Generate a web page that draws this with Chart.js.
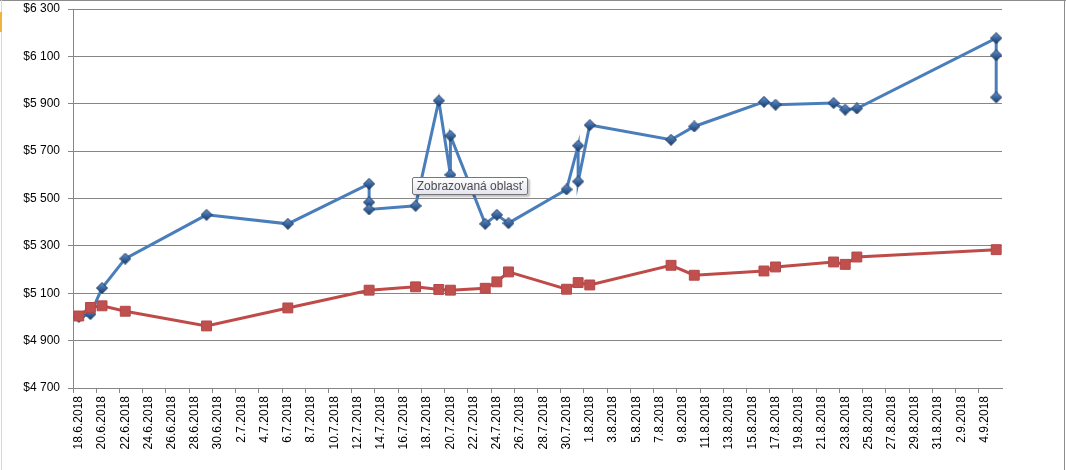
<!DOCTYPE html>
<html>
<head>
<meta charset="utf-8">
<script src="https://cdn.jsdelivr.net/npm/chart.js@4.4.1/dist/chart.umd.min.js"></script>
<style>
  body { margin: 0; background: #fff; }
  #wrap { position: relative; width: 1066px; height: 470px; overflow: hidden; }
  #edgeTop { position: absolute; left: 0; top: 0; width: 1066px; height: 1px; background: #8c8c8c; }
  #edgeRight { position: absolute; left: 1064px; top: 0; width: 1px; height: 470px; background: #8c8c8c; }
  #edgeLeft { position: absolute; left: 1px; top: 0; width: 1px; height: 470px; background: #d0d7e5; }
  #edgeMark { position: absolute; left: 0; top: 12px; width: 2px; height: 20px; background: #f2b33d; }
  #tip {
    position: absolute; left: 412px; top: 177px; width: 114px; height: 16px;
    border: 1px solid #767676; border-radius: 2px;
    background: linear-gradient(#ffffff, #e4e5f0);
    box-shadow: 2px 2px 2px rgba(0,0,0,0.25);
    font: 12px "Liberation Sans", Arial, sans-serif; color: #4c4c4c;
    line-height: 16px; text-align: center; white-space: nowrap;
  }
</style>
</head>
<body>
<div id="wrap">
  <canvas id="chart"></canvas>
  <div id="edgeTop"></div>
  <div id="edgeRight"></div>
  <div id="edgeLeft"></div>
  <div id="edgeMark"></div>
  <div id="tip">Zobrazovaná oblasť</div>
</div>
<script>
// axis: every calendar day from 18.6.2018, 80 days
var firstDay = [2018, 5, 18];
var dayCount = 80;

var blueDates = ["18.6.2018", "19.6.2018", "20.6.2018", "22.6.2018", "29.6.2018", "6.7.2018",
    "13.7.2018", "13.7.2018", "13.7.2018", "17.7.2018", "19.7.2018", "20.7.2018", "20.7.2018",
    "23.7.2018", "24.7.2018", "25.7.2018", "30.7.2018", "31.7.2018", "31.7.2018", "1.8.2018",
    "8.8.2018", "10.8.2018", "16.8.2018", "17.8.2018", "22.8.2018", "23.8.2018", "24.8.2018",
    "5.9.2018", "5.9.2018", "5.9.2018"];
var blueValues = [5000, 5012, 5122, 5246, 5431, 5393,
    5562, 5484, 5454, 5469, 5913, 5600, 5765,
    5393, 5431, 5396, 5538, 5723, 5572, 5810,
    5748, 5804, 5908, 5896, 5903, 5875, 5880,
    6177, 6105, 5927];

var redDates = ["18.6.2018", "19.6.2018", "20.6.2018", "22.6.2018", "29.6.2018", "6.7.2018",
    "13.7.2018", "17.7.2018", "19.7.2018", "20.7.2018", "23.7.2018", "24.7.2018", "25.7.2018",
    "30.7.2018", "31.7.2018", "1.8.2018", "8.8.2018", "10.8.2018", "16.8.2018", "17.8.2018",
    "22.8.2018", "23.8.2018", "24.8.2018", "5.9.2018"];
var redValues = [5004, 5040, 5047, 5024, 4962, 5038,
    5113, 5127, 5116, 5113, 5121, 5148, 5190,
    5117, 5145, 5135, 5218, 5176, 5194, 5211,
    5232, 5222, 5253, 5284];

var yMin = 4700, yMax = 6300, yStep = 200;

var dayLabels = [];
for (var i = 0; i < dayCount; i++) {
    var d = new Date(firstDay[0], firstDay[1], firstDay[2] + i);
    dayLabels.push(d.getDate() + "." + (d.getMonth() + 1) + "." + d.getFullYear());
}

function pairs(dates, values) {
    return dates.map(function (x, k) { return { x: x, y: values[k] }; });
}

// bevelled diamond marker like the Excel one
function diamond() {
    var c = document.createElement("canvas");
    c.width = 12; c.height = 12;
    var g = c.getContext("2d");
    var grad = g.createLinearGradient(0, 0, 0, 12);
    grad.addColorStop(0, "#6f98cf");
    grad.addColorStop(0.5, "#3a67a2");
    grad.addColorStop(1, "#1b3659");
    g.beginPath();
    g.moveTo(6, 0.5); g.lineTo(11.5, 6); g.lineTo(6, 11.5); g.lineTo(0.5, 6);
    g.closePath();
    g.fillStyle = grad;
    g.fill();
    g.strokeStyle = "#1d3a62";
    g.lineWidth = 1;
    g.stroke();
    return c;
}

var gridGray = "#868686";
var font = { family: "'Liberation Sans', Arial, sans-serif", size: 12 };

var ctx = document.getElementById("chart").getContext("2d");
var chart = new Chart(ctx, {
    type: 'line',
    data: {
        labels: dayLabels,
        datasets: [{
            label: 'red',
            data: pairs(redDates, redValues),
            borderColor: '#be4b48',
            borderWidth: 3,
            pointStyle: 'rect',
            pointRadius: 7,
            pointBackgroundColor: '#c0504d',
            pointBorderColor: '#b4474a',
            pointBorderWidth: 1,
            tension: 0
        }, {
            label: 'blue',
            data: pairs(blueDates, blueValues),
            borderColor: '#4a7ebb',
            borderWidth: 3,
            pointStyle: diamond(),
            pointRadius: 6,
            tension: 0
        }]
    },
    options: {
        responsive: true,
        maintainAspectRatio: false,
        animation: false,
        layout: { padding: { left: 0, right: 64, top: 8, bottom: 0 } },
        plugins: { legend: { display: false }, tooltip: { enabled: false } },
        scales: {
            x: {
                type: 'category',
                offset: true,
                grid: {
                    offset: true,
                    drawOnChartArea: false,
                    tickLength: 5,
                    color: function (c) { return c.index % 2 === 0 ? gridGray : 'rgba(0,0,0,0)'; }
                },
                border: { color: gridGray },
                ticks: {
                    autoSkip: false,
                    minRotation: 90,
                    maxRotation: 90,
                    padding: 3,
                    color: '#000',
                    font: font,
                    callback: function (v, i) { return i % 2 === 0 ? this.getLabelForValue(v) : ''; }
                },
                afterFit: function (s) { s.height = 82; s.paddingLeft = 0; s.paddingRight = 0; }
            },
            y: {
                min: yMin,
                max: yMax,
                grid: { color: gridGray, tickLength: 5 },
                border: { color: gridGray },
                ticks: {
                    stepSize: yStep,
                    padding: 8,
                    color: '#000',
                    font: font,
                    callback: function (v) { return '$' + String(v).replace(/\B(?=(\d{3})+(?!\d))/g, ' '); }
                },
                afterFit: function (s) { s.width = 73; s.paddingTop = 0; s.paddingBottom = 0; }
            }
        }
    }
});
</script>
</body>
</html>
